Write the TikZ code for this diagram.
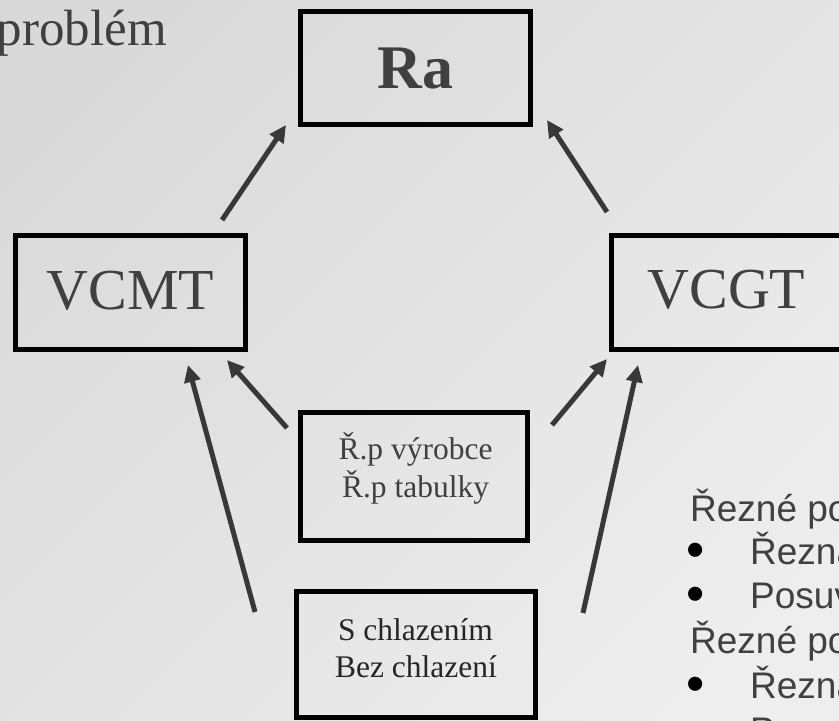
\documentclass[tikz,border=0pt]{standalone}
\usepackage{fontspec}
\setmainfont{Liberation Serif}
\newfontfamily\arialf{Liberation Sans}
\usetikzlibrary{arrows.meta,calc}
\definecolor{bgA}{HTML}{D9D9D9}
\definecolor{bgB}{HTML}{EEEEEE}
\definecolor{txtc}{HTML}{404040}
\definecolor{txtd}{HTML}{262626}
\definecolor{arrc}{HTML}{383838}
\begin{document}
\begin{tikzpicture}[x=1pt,y=-1pt,
  box/.style={draw=black,line width=5pt,inner sep=0pt},
  bigtxt/.style={inner sep=0pt,anchor=base,text=txtc,font=\fontsize{58}{60}\selectfont},
  smalltxt/.style={inner sep=0pt,anchor=base,text=txtc,font=\fontsize{31.5}{38}\selectfont},
  sanstxt/.style={inner sep=0pt,anchor=base west,text=txtc,font=\arialf\fontsize{37}{44}\selectfont},
  bul/.style={inner sep=0pt,anchor=base,text=black,text height=22pt,text depth=0pt,font=\arialf\fontsize{52}{54}\selectfont},
  arrowst/.style={draw=arrc,line width=5pt,-{Triangle[length=17pt,width=16pt]}}]
  \useasboundingbox (0,0) rectangle (839,721);
  \clip (0,0) rectangle (839,721);
  \shade[top color=bgA,bottom color=bgB,shading angle=45] (-50,-50) rectangle (889,771);

  % boxes
  \node[box,minimum width=230pt,minimum height=113pt] (ra) at (415.5,68) {};
  \node[box,minimum width=230pt,minimum height=114pt] (vcmt) at (130.5,292.5) {};
  \node[box,minimum width=230pt,minimum height=114pt] (vcgt) at (726.5,292.5) {};
  \node[box,minimum width=227pt,minimum height=128pt] (rp) at (414,476.5) {};
  \node[box,minimum width=239pt,minimum height=126pt] (sc) at (416,654.5) {};

  % texts
  \node[inner sep=0pt,anchor=base east,text=txtc,font=\fontsize{51}{54}\selectfont] (prob) at (167,45) {problém};
  \node[bigtxt,font=\bfseries\fontsize{62}{64}\selectfont] (ratxt) at (415.5,88) {Ra};
  \node[bigtxt] (vcmttxt) at (130.5,309) {VCMT};
  \node[bigtxt] (vcgttxt) at (726.5,308) {VCGT};
  \node[smalltxt] (rp1) at (415.5,459) {Ř.p výrobce};
  \node[smalltxt] (rp2) at (415.5,497) {Ř.p tabulky};
  \node[smalltxt,text=txtd] (sc1) at (415.5,640) {S chlazením};
  \node[smalltxt,text=txtd] (sc2) at (416,677) {Bez chlazení};

  % right text block
  \node[sanstxt] (r1) at (690,521) {Řezné po};
  \node[bul] (b2) at (696,567) {\textbullet};
  \node[sanstxt] (r2) at (750,564) {Řezná};
  \node[bul] (b3) at (696,611) {\textbullet};
  \node[sanstxt] (r3) at (750,608) {Posuv};
  \node[sanstxt] (r4) at (690,653) {Řezné po};
  \node[bul] (b5) at (696,701) {\textbullet};
  \node[sanstxt] (r5) at (750,698) {Řezná};
  \node[sanstxt] (r6) at (750,743) {Posuv};

  % arrows
  \draw[arrowst] ($(vcmt.north east)+(-26,-13)$) -- ($(ra.south west)+(-12,-2)$);
  \draw[arrowst] ($(vcgt.north west)+(-2,-21)$) -- ($(ra.south east)+(14,-7)$);
  \draw[arrowst] ($(rp.north west)+(-11,18)$) -- ($(vcmt.south east)+(-21,8)$);
  \draw[arrowst] ($(sc.north west)+(-39,23)$) -- ($(vcmt.south east)+(-60,13)$);
  \draw[arrowst] ($(rp.north east)+(22,15)$) -- ($(vcgt.south west)+(-2,7)$);
  \draw[arrowst] ($(sc.north east)+(45,24)$) -- ($(vcgt.south west)+(29,13)$);
\end{tikzpicture}
\end{document}
